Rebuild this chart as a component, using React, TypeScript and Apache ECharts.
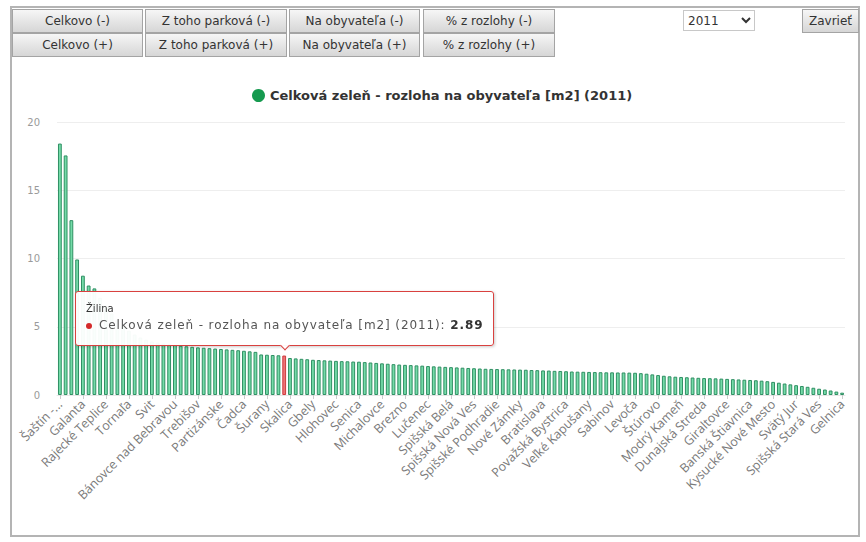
import React, { useEffect, useRef } from "react";
import * as echarts from "echarts";

const seriesName = "Celková zeleň - rozloha na obyvateľa [m2] (2011)";
const selectedCity = "Žilina";
const years = ["2011"];
const buttonsTop = ["Celkovo (-)", "Z toho parková (-)", "Na obyvateľa (-)", "% z rozlohy (-)"];
const buttonsBottom = ["Celkovo (+)", "Z toho parková (+)", "Na obyvateľa (+)", "% z rozlohy (+)"];
const yTicks = [0, 5, 10, 15, 20];

const cities = [
  "Šaštín - Stráže", "Vysoké Tatry", "Trenčianske Teplice", "Sliač",
  "Galanta", "Hriňová", "Kremnica", "Tisovec",
  "Rajecké Teplice", "Medzev", "Jelšava", "Dobšiná",
  "Tornaľa", "Podolínec", "Nová Baňa", "Krupina",
  "Svit", "Turčianske Teplice", "Liptovský Hrádok", "Brezová pod Bradlom",
  "Bánovce nad Bebravou", "Žarnovica", "Poltár", "Hnúšťa",
  "Trebišov", "Revúca", "Detva", "Tlmače",
  "Partizánske", "Handlová", "Nováky", "Bojnice",
  "Čadca", "Krásno nad Kysucou", "Turzovka", "Rajec",
  "Šurany", "Bytča", "Martin", "Žilina",
  "Skalica", "Holíč", "Myjava", "Stará Turá",
  "Gbely", "Vrbové", "Leopoldov", "Sereď",
  "Hlohovec", "Piešťany", "Trnava", "Nitra",
  "Senica", "Vráble", "Zlaté Moravce", "Topoľčany",
  "Michalovce", "Strážske", "Sobrance", "Humenné",
  "Brezno", "Zvolen", "Banská Bystrica", "Žiar nad Hronom",
  "Lučenec", "Fiľakovo", "Veľký Krtíš", "Rimavská Sobota",
  "Spišská Belá", "Kežmarok", "Poprad", "Stará Ľubovňa",
  "Spišská Nová Ves", "Krompachy", "Rožňava", "Košice",
  "Spišské Podhradie", "Prešov", "Lipany", "Veľký Šariš",
  "Nové Zámky", "Komárno", "Hurbanovo", "Kolárovo",
  "Bratislava", "Malacky", "Stupava", "Pezinok",
  "Považská Bystrica", "Púchov", "Ilava", "Dubnica nad Váhom",
  "Veľké Kapušany", "Kráľovský Chlmec", "Čierna nad Tisou", "Sečovce",
  "Sabinov", "Bardejov", "Svidník", "Stropkov",
  "Levoča", "Medzilaborce", "Snina", "Vranov nad Topľou",
  "Štúrovo", "Želiezovce", "Šahy", "Levice",
  "Modrý Kameň", "Ružomberok", "Liptovský Mikuláš", "Dolný Kubín",
  "Dunajská Streda", "Šamorín", "Gabčíkovo", "Veľký Meder",
  "Giraltovce", "Hanušovce nad Topľou", "Moldava nad Bodvou", "Tvrdošín",
  "Banská Štiavnica", "Trstená", "Námestovo", "Vrútky",
  "Kysucké Nové Mesto", "Trenčín", "Nemšová", "Nová Dubnica",
  "Svätý Jur", "Modra", "Senec", "Sládkovičovo",
  "Spišská Stará Ves", "Šaľa", "Nové Mesto nad Váhom", "Dudince",
  "Gelnica",
];

const values = [
  18.42, 17.55, 12.81, 9.93, 8.74, 8.02, 7.81,
  7.12, 6.54, 5.97, 5.48, 5.02, 4.71, 4.43, 4.21, 4.05, 3.92, 3.84, 3.77, 3.71, 3.66,
  3.61, 3.57, 3.53, 3.49, 3.46, 3.43, 3.40, 3.37, 3.34, 3.31, 3.28, 3.24, 3.20, 3.16,
  2.97, 2.95, 2.93, 2.91,
  2.89,
  2.71, 2.68, 2.65, 2.62, 2.58, 2.56, 2.54, 2.52, 2.50, 2.48,
  2.47, 2.45, 2.44, 2.41, 2.38, 2.35, 2.32, 2.29, 2.26, 2.23,
  2.21, 2.19, 2.17, 2.15, 2.12, 2.10, 2.08, 2.06, 2.04, 2.02,
  2.00, 1.98, 1.96, 1.94, 1.92, 1.91, 1.90,
  1.89, 1.88, 1.87, 1.86, 1.85, 1.83, 1.82, 1.80, 1.79, 1.77, 1.76, 1.74,
  1.72, 1.71, 1.70, 1.69, 1.68, 1.67, 1.66, 1.66, 1.65, 1.65, 1.64, 1.63,
  1.60, 1.56, 1.51, 1.46, 1.41, 1.37, 1.34, 1.32, 1.30, 1.28, 1.26, 1.24,
  1.23, 1.22, 1.20, 1.18, 1.16, 1.14, 1.12, 1.10, 1.08, 1.05, 1.01, 0.96,
  0.90, 0.84, 0.78, 0.72, 0.66, 0.60, 0.53, 0.46, 0.40, 0.33, 0.25, 0.17,
];

const btnStyle: React.CSSProperties = {
  position: "absolute",
  height: 24,
  boxSizing: "border-box",
  border: "1px solid #a4a4a4",
  background: "linear-gradient(#f6f6f6, #d6d6d6)",
  fontFamily: "'DejaVu Sans', sans-serif",
  fontSize: 12,
  color: "#333",
  padding: 0,
  textAlign: "center",
  lineHeight: "22px",
  whiteSpace: "nowrap",
  overflow: "hidden",
};

const btnX = [12, 145, 289, 423];
const btnW = [131, 142, 131, 132];

export default function App() {
  const ref = useRef<HTMLDivElement>(null);

  useEffect(() => {
    if (!ref.current) return;
    const chart = echarts.init(ref.current, undefined, { renderer: "svg" });
    const selIndex = cities.indexOf(selectedCity);
    const data = values.map((v, i) =>
      i === selIndex
        ? { value: v, itemStyle: { color: "#ec7477", borderColor: "#cf3a3c" } }
        : v
    );
    chart.setOption({
      animation: false,
      textStyle: { fontFamily: "'DejaVu Sans', sans-serif" },
      legend: {
        top: 26,
        left: 235,
        icon: "circle",
        itemWidth: 13,
        itemHeight: 13,
        itemGap: 10,
        itemStyle: { color: "#169a4f", borderWidth: 0 },
        textStyle: { fontSize: 13, fontWeight: "bold", color: "#333", fontFamily: "'DejaVu Sans', sans-serif" },
        data: [seriesName],
      },
      tooltip: {
        trigger: "item",
        triggerOn: "none",
        alwaysShowContent: true,
        position: "top",
        backgroundColor: "rgba(255,255,255,0.96)",
        borderColor: "#d9413f",
        borderWidth: 1,
        padding: [9, 10, 11, 10],
        extraCssText: "box-shadow: 1px 1px 3px rgba(0,0,0,0.2); border-radius: 3px;",
        formatter: (p: any) =>
          `<div style="font-family:'DejaVu Sans',sans-serif;font-size:10px;color:#333;line-height:15px">${p.name}</div>` +
          `<div style="font-family:'DejaVu Sans',sans-serif;font-size:12px;color:#555;line-height:18px;letter-spacing:0.9px">` +
          `<span style="display:inline-block;width:6px;height:6px;border-radius:50%;background:#d42a2a;margin-right:7px;vertical-align:middle"></span>` +
          `${p.seriesName}: <b style="color:#333">${p.value}</b></div>`,
      },
      grid: { left: 45, right: 13, top: 64, bottom: 140 },
      xAxis: {
        type: "category",
        data: cities,
        axisLine: { show: true, lineStyle: { color: "#e6e6e6" } },
        axisTick: { show: true, interval: 3, alignWithLabel: true, length: 4, lineStyle: { color: "#cccccc" } },
        axisLabel: {
          interval: 3,
          rotate: 45,
          margin: 7,
          fontSize: 12.5,
          color: "#7a7a7a",
          fontFamily: "'Open Sans', sans-serif",
          formatter: (v: string) => (v.indexOf(" - ") > 0 ? v.split(" - ")[0] + " -..." : v),
        },
      },
      yAxis: {
        type: "value",
        min: yTicks[0],
        max: yTicks[yTicks.length - 1],
        interval: 5,
        axisLine: { show: false },
        axisTick: { show: false },
        axisLabel: { margin: 17, fontSize: 10, color: "#9a9a9a" },
        splitLine: { lineStyle: { color: "#eeeeee" } },
      },
      series: [
        {
          name: seriesName,
          type: "bar",
          data,
          barCategoryGap: "34%",
          itemStyle: { color: "#74dba8", borderColor: "#2f8f63", borderWidth: 1 },
          emphasis: { disabled: true },
        },
      ],
    });
    chart.dispatchAction({ type: "showTip", seriesIndex: 0, dataIndex: selIndex });
    return () => chart.dispose();
  }, []);

  return (
    <div style={{ position: "absolute", left: 0, top: 0, width: 866, height: 542, background: "#fff", overflow: "hidden" }}>
      <div
        style={{
          position: "absolute",
          left: 10,
          top: 6,
          width: 850,
          height: 531,
          boxSizing: "border-box",
          border: "2px solid #b4b4b4",
          background: "#fff",
        }}
      />
      {buttonsTop.map((t, i) => (
        <button key={"t" + i} style={{ ...btnStyle, left: btnX[i], top: 9, width: btnW[i] }}>{t}</button>
      ))}
      {buttonsBottom.map((t, i) => (
        <button key={"b" + i} style={{ ...btnStyle, left: btnX[i], top: 33, width: btnW[i] }}>{t}</button>
      ))}
      <select
        defaultValue={years[0]}
        style={{
          position: "absolute",
          left: 683,
          top: 10,
          width: 72,
          height: 21,
          fontSize: 12,
          fontFamily: "'DejaVu Sans', sans-serif",
          border: "1px solid #c8c8c8",
          background: "#fff",
          color: "#333",
        }}
      >
        {years.map((y) => (
          <option key={y} value={y}>{y}</option>
        ))}
      </select>
      <button style={{ ...btnStyle, left: 802, top: 9, width: 57 }}>Zavrieť</button>
      <div ref={ref} style={{ position: "absolute", left: 12, top: 58, width: 846, height: 477 }} />
    </div>
  );
}
